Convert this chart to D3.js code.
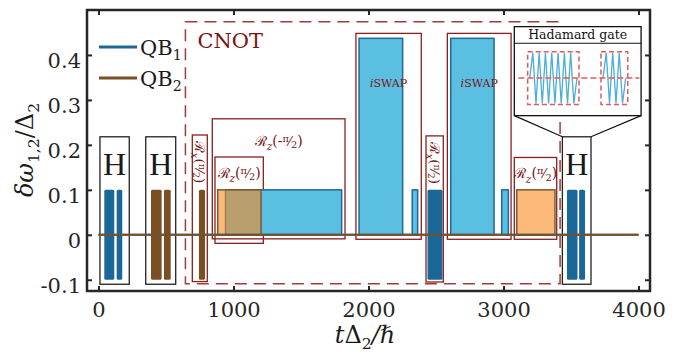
<!DOCTYPE html>
<html>
<head>
<meta charset="utf-8">
<script src="https://cdn.jsdelivr.net/npm/d3@7/dist/d3.min.js"></script>
<style>
	body { margin: 0; background: #fff; }
	svg text { font-family: "DejaVu Serif", serif; }
</style>
</head>
<body>
<svg id="chart" width="681" height="356"></svg>
<script>
// axis ticks
const xTicks = [0, 1000, 2000, 3000, 4000];
const yTicks = [-0.1, 0, 0.1, 0.2, 0.3, 0.4];

// microwave (XY) pulses, [start, end] in t, they swing between these two levels
const xyLevels = [-0.1, 0.1];
const qb1XY = [[43, 117], [135, 176], [2437, 2548], [3470, 3548], [3560, 3604]];
const qb2XY = [[389, 468], [485, 535], [744, 789]];

// flux (Z) pulses: [start, end, amplitude]
const qb1Z = [[941, 1801, 0.1], [1930, 2253, 0.437], [2324, 2364, 0.1], [2609, 2930, 0.437], [2987, 3036, 0.1]];
const qb2Z = [[883, 1204, 0.1], [3098, 3381, 0.1]];

// gate boxes: [t0, t1, bottom, top, kind, label arg]
const gateBoxes = [
	[695, 806, -0.104, 0.222, 'Rx', 'π/2'],
	[843, 1826, -0.009, 0.258, 'Rz', '-π/2'],
	[863, 1221, -0.019, 0.173, 'Rz', 'π/2'],
	[1907, 2391, -0.010, 0.448, 'iSWAP', ''],
	[2426, 2554, -0.105, 0.220, 'Rx', 'π/2'],
	[2584, 3056, -0.010, 0.448, 'iSWAP', ''],
	[3080, 3394, -0.010, 0.172, 'Rz', 'π/2']
];
const hadamardBoxes = [[11, 228], [350, 572], [3436, 3648]];
const hadamardLevels = [-0.11, 0.218];
const cnotBox = [644, 3419, -0.109, 0.474];

// zoomed Hadamard inset
const insetBox = [3080, 4019, 0.265, 0.463];
const insetTitleBottom = 0.426;
const insetAxis = [3110, 4006, 0.349];
const insetWindows = [[3179, 3559], [3722, 3920]];
const insetWindowLevels = [0.290, 0.407];
const insetWaveA = [0, 1, -1, 1, -1, 1, -1, 1, -1, 1, -1, 1, -1, 1, -1, 0];
const insetWaveB = [0, 1, -1, 1, -1, 1, -1, 0];

const C = {
	axis: '#262626',
	darkBlue: '#1b6898',
	lightBlue: '#5bbfe2',
	blueEdge: '#1f6a98',
	brown: '#7b4f24',
	orange: 'rgb(248,139,34)',
	orangeEdge: '#7a5a30',
	gateRed: '#8a1f1f',
	cnotRed: '#a23a3a',
	labelRed: '#7a1515',
	insetRed: '#e05a5a',
	insetWave: '#4aaed6'
};

const svg = d3.select('#chart');
const plot = { left: 87, right: 650, top: 10, bottom: 291 };

const x = d3.scaleLinear().domain([-85, 4085]).range([plot.left, plot.right]);
const y = d3.scaleLinear().domain([-0.125, 0.5]).range([plot.bottom, plot.top]);

const g = svg.append('g');

// CNOT dashed frame
g.append('rect')
	.attr('x', x(cnotBox[0]))
	.attr('y', y(cnotBox[3]))
	.attr('width', x(cnotBox[1]) - x(cnotBox[0]))
	.attr('height', y(cnotBox[2]) - y(cnotBox[3]))
	.attr('fill', 'none')
	.attr('stroke', C.cnotRed)
	.attr('stroke-width', 1.5)
	.attr('stroke-dasharray', '12,7');

g.append('text')
	.attr('x', x(cnotBox[0]) + 12)
	.attr('y', y(cnotBox[3]) + 26)
	.attr('fill', C.labelRed)
	.style('font-size', '21px')
	.text('CNOT');

// gate boxes
g.append('g').selectAll('rect')
	.data(gateBoxes)
	.enter().append('rect')
	.attr('x', d => x(d[0]))
	.attr('y', d => y(d[3]))
	.attr('width', d => x(d[1]) - x(d[0]))
	.attr('height', d => y(d[2]) - y(d[3]))
	.attr('fill', 'none')
	.attr('stroke', C.gateRed)
	.attr('stroke-width', 1.3);

g.append('g').selectAll('rect')
	.data(hadamardBoxes)
	.enter().append('rect')
	.attr('x', d => x(d[0]))
	.attr('y', y(hadamardLevels[1]))
	.attr('width', d => x(d[1]) - x(d[0]))
	.attr('height', y(hadamardLevels[0]) - y(hadamardLevels[1]))
	.attr('fill', 'none')
	.attr('stroke', '#222')
	.attr('stroke-width', 1.3);

// flux pulses
g.append('g').selectAll('rect')
	.data(qb1Z)
	.enter().append('rect')
	.attr('x', d => x(d[0]))
	.attr('y', d => y(d[2]))
	.attr('width', d => x(d[1]) - x(d[0]))
	.attr('height', d => y(0) - y(d[2]))
	.attr('fill', C.lightBlue)
	.attr('stroke', C.blueEdge)
	.attr('stroke-width', 1.5);

g.append('g').selectAll('rect')
	.data(qb2Z)
	.enter().append('rect')
	.attr('x', d => x(d[0]))
	.attr('y', d => y(d[2]))
	.attr('width', d => x(d[1]) - x(d[0]))
	.attr('height', d => y(0) - y(d[2]))
	.attr('fill', C.orange)
	.attr('fill-opacity', 0.6)
	.attr('stroke', C.orangeEdge)
	.attr('stroke-width', 1.5);

// microwave pulses
function drawXY(data, colour) {
	g.append('g').selectAll('rect')
		.data(data)
		.enter().append('rect')
		.attr('x', d => x(d[0]))
		.attr('y', y(xyLevels[1]))
		.attr('width', d => x(d[1]) - x(d[0]))
		.attr('height', y(xyLevels[0]) - y(xyLevels[1]))
		.attr('rx', 1.5)
		.attr('fill', colour);
}
drawXY(qb1XY, C.darkBlue);
drawXY(qb2XY, C.brown);

// idle baselines
g.append('line')
	.attr('x1', x(0)).attr('x2', x(4000))
	.attr('y1', y(0)).attr('y2', y(0))
	.attr('stroke', C.darkBlue).attr('stroke-width', 2);
g.append('line')
	.attr('x1', x(0)).attr('x2', x(4000))
	.attr('y1', y(0)).attr('y2', y(0))
	.attr('stroke', C.brown).attr('stroke-width', 2);

// gate labels
function mathLabel(text, parts, size) {
	// parts: [string, scale, shift(em, +down), italic]
	let prev = 0;
	parts.forEach(p => {
		const shift = p[2] * size;
		text.append('tspan')
			.attr('dy', shift - prev)
			.style('font-size', (p[1] * size) + 'px')
			.style('font-style', p[3] ? 'italic' : 'normal')
			.text(p[0]);
		prev = shift;
	});
}

function rotationParts(sub, arg) {
	const neg = arg.startsWith('-');
	const parts = [['ℛ', 1, 0, false], [sub, 0.75, 0.3, true], ['(', 1, 0, false]];
	if (neg) parts.push(['-', 1, 0, false]);
	parts.push(['π', 0.7, -0.3, false], ['⁄', 0.9, 0, false], ['2', 0.7, 0.15, false], [')', 1, 0, false]);
	return parts;
}

gateBoxes.forEach(d => {
	const cx = (x(d[0]) + x(d[1])) / 2;
	if (d[4] === 'iSWAP') {
		const t = g.append('text')
			.attr('x', cx)
			.attr('y', y(0.437) + 49)
			.attr('text-anchor', 'middle')
			.attr('fill', C.labelRed);
		mathLabel(t, [['i', 1, 0, true], ['SWAP', 1, 0, false]], 11);
	} else if (d[4] === 'Rx') {
		const t = g.append('text')
			.attr('text-anchor', 'middle')
			.attr('fill', C.labelRed)
			.attr('transform', `translate(${cx - 4.5},${y(d[3]) + 27}) rotate(90)`);
		mathLabel(t, rotationParts('x', d[5]), 13.5);
	} else {
		const t = g.append('text')
			.attr('x', cx)
			.attr('y', y(d[3]) + (d[5].startsWith('-') ? 27 : 21))
			.attr('text-anchor', 'middle')
			.attr('fill', C.labelRed);
		mathLabel(t, rotationParts('z', d[5]), 14);
	}
});

g.append('g').selectAll('text')
	.data(hadamardBoxes)
	.enter().append('text')
	.attr('x', d => (x(d[0]) + x(d[1])) / 2)
	.attr('y', y(hadamardLevels[1]) + 38)
	.attr('text-anchor', 'middle')
	.attr('fill', '#1a1a1a')
	.style('font-family', '"Liberation Serif", serif')
	.style('font-size', '32px')
	.text('H');

// inset
const hz = hadamardBoxes[2];
const zoomLines = [
	[hz[0], hadamardLevels[1], insetBox[0], insetBox[2]],
	[hz[1], hadamardLevels[1], insetBox[1], insetBox[2]]
];
g.append('g').selectAll('line')
	.data(zoomLines)
	.enter().append('line')
	.attr('x1', d => x(d[0])).attr('y1', d => y(d[1]))
	.attr('x2', d => x(d[2])).attr('y2', d => y(d[3]))
	.attr('stroke', '#111').attr('stroke-width', 1.2);

const inset = g.append('g');
inset.append('rect')
	.attr('x', x(insetBox[0]))
	.attr('y', y(insetBox[3]))
	.attr('width', x(insetBox[1]) - x(insetBox[0]))
	.attr('height', y(insetBox[2]) - y(insetBox[3]))
	.attr('fill', '#fff')
	.attr('stroke', '#111')
	.attr('stroke-width', 1.3);
inset.append('line')
	.attr('x1', x(insetBox[0])).attr('x2', x(insetBox[1]))
	.attr('y1', y(insetTitleBottom)).attr('y2', y(insetTitleBottom))
	.attr('stroke', '#111').attr('stroke-width', 1.2);
inset.append('text')
	.attr('x', (x(insetBox[0]) + x(insetBox[1])) / 2)
	.attr('y', (y(insetBox[3]) + y(insetTitleBottom)) / 2 + 4.5)
	.attr('text-anchor', 'middle')
	.attr('fill', '#111')
	.style('font-size', '12.5px')
	.text('Hadamard gate');

const waveY = d3.scaleLinear().domain([-1, 1]).range([y(insetWindowLevels[0]) - 1, y(insetWindowLevels[1]) + 1]);
[insetWaveA, insetWaveB].forEach((wave, i) => {
	const win = insetWindows[i];
	const wx = d3.scaleLinear().domain([0, wave.length - 1]).range([x(win[0]) + 2, x(win[1]) - 2]);
	inset.append('path')
		.datum(wave)
		.attr('d', d3.line().x((d, j) => wx(j)).y(d => waveY(d)))
		.attr('fill', 'none')
		.attr('stroke', C.insetWave)
		.attr('stroke-width', 1.3);
});
inset.append('line')
	.attr('x1', x(insetAxis[0])).attr('x2', x(insetAxis[1]))
	.attr('y1', y(insetAxis[2])).attr('y2', y(insetAxis[2]))
	.attr('stroke', C.insetRed).attr('stroke-width', 1.5)
	.attr('stroke-dasharray', '6,3');
inset.append('g').selectAll('rect')
	.data(insetWindows)
	.enter().append('rect')
	.attr('x', d => x(d[0]))
	.attr('y', y(insetWindowLevels[1]))
	.attr('width', d => x(d[1]) - x(d[0]))
	.attr('height', y(insetWindowLevels[0]) - y(insetWindowLevels[1]))
	.attr('fill', 'none')
	.attr('stroke', C.insetRed)
	.attr('stroke-width', 1.5)
	.attr('stroke-dasharray', '5,3');

// legend
const legend = [['QB', '1', C.darkBlue], ['QB', '2', C.brown]];
const lg = svg.append('g').attr('transform', `translate(${plot.left + 12},${plot.top + 37})`);
legend.forEach((d, i) => {
	lg.append('line')
		.attr('x1', 0).attr('x2', 38)
		.attr('y1', i * 31).attr('y2', i * 31)
		.attr('stroke', d[2]).attr('stroke-width', 3);
	const t = lg.append('text')
		.attr('x', 41).attr('y', i * 31 + 8)
		.attr('fill', '#1a1a1a');
	mathLabel(t, [[d[0], 1, 0, false], [d[1], 0.68, 0.25, false]], 21);
});

// axes frame with inward ticks
const axisG = svg.append('g');
function styleAxis(a, labels) {
	a.select('.domain').remove();
	a.selectAll('.tick line').attr('stroke', C.axis).attr('stroke-width', 2);
	if (!labels) a.selectAll('.tick text').remove();
	else a.selectAll('.tick text')
		.attr('fill', C.axis)
		.style('font-family', '"DejaVu Serif", serif')
		.style('font-size', '21px');
}
const yFmt = d => d === 0 ? '0' : d3.format('.1f')(d).replace('−', '-');

styleAxis(axisG.append('g').attr('transform', `translate(0,${plot.bottom})`)
	.call(d3.axisBottom(x).tickValues(xTicks).tickFormat(d3.format('d')).tickSizeInner(-5).tickSizeOuter(0).tickPadding(11)), true);
styleAxis(axisG.append('g').attr('transform', `translate(0,${plot.top})`)
	.call(d3.axisTop(x).tickValues(xTicks).tickSizeInner(-5).tickSizeOuter(0)), false);
const yAx = axisG.append('g').attr('transform', `translate(${plot.left},0)`)
	.call(d3.axisLeft(y).tickValues(yTicks).tickFormat(yFmt).tickSizeInner(-5).tickSizeOuter(0).tickPadding(6));
styleAxis(yAx, true);
yAx.selectAll('.tick text').attr('dy', '0.6em');
styleAxis(axisG.append('g').attr('transform', `translate(${plot.right},0)`)
	.call(d3.axisRight(y).tickValues(yTicks).tickSizeInner(-5).tickSizeOuter(0)), false);

axisG.append('rect')
	.attr('x', plot.left).attr('y', plot.top)
	.attr('width', plot.right - plot.left)
	.attr('height', plot.bottom - plot.top)
	.attr('fill', 'none')
	.attr('stroke', C.axis)
	.attr('stroke-width', 2.5);

// axis titles
const xt = svg.append('text')
	.attr('x', 365)
	.attr('y', 343)
	.attr('text-anchor', 'middle')
	.attr('fill', '#1a1a1a');
mathLabel(xt, [['t', 1, 0, true], ['Δ', 1, 0, false], ['2', 0.65, 0.25, false], ['/ℏ', 1, 0, true]], 24);

const yt = svg.append('text')
	.attr('text-anchor', 'middle')
	.attr('fill', '#1a1a1a')
	.attr('transform', `translate(33,150) rotate(-90)`);
mathLabel(yt, [['δω', 1, 0, true], ['1,2', 0.65, 0.25, false], ['/Δ', 1, 0, false], ['2', 0.65, 0.25, false]], 24);
</script>
</body>
</html>
